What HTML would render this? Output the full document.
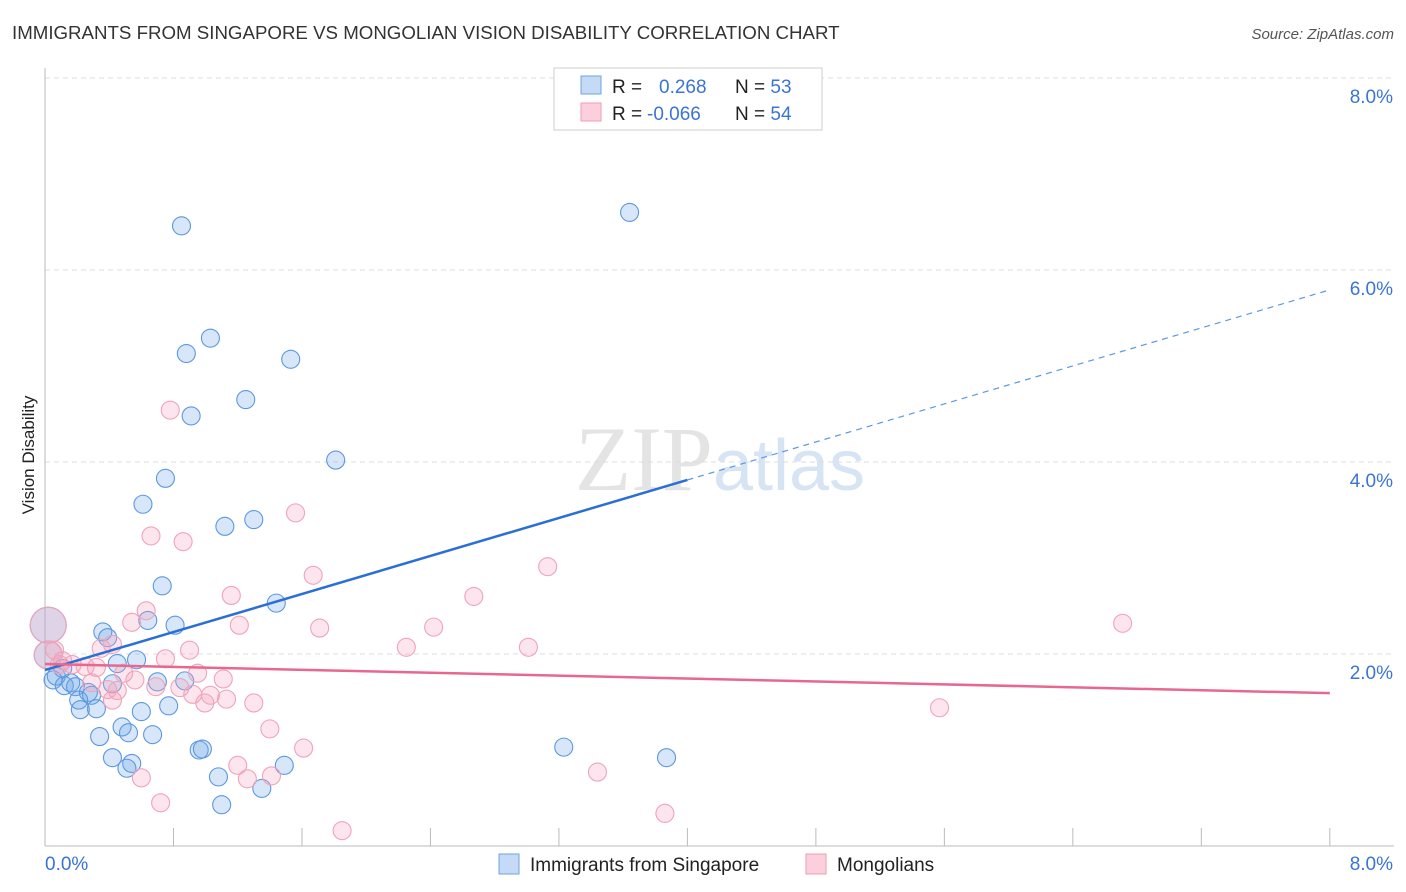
<!DOCTYPE html>
<html><head><meta charset="utf-8"><style>
body{margin:0;background:#fff;font-family:"Liberation Sans",sans-serif;}
svg{display:block}
</style></head><body>
<svg id="chart" width="1406" height="892" xmlns="http://www.w3.org/2000/svg">
<text x="12" y="39" font-size="18.7" fill="#333">IMMIGRANTS FROM SINGAPORE VS MONGOLIAN VISION DISABILITY CORRELATION CHART</text>
<text x="1394" y="39" font-size="15" fill="#555" font-style="italic" text-anchor="end">Source: ZipAtlas.com</text>
<text x="720" y="490" font-size="92" fill="#e4e4e4" text-anchor="middle" font-family="Liberation Serif,serif">ZIP<tspan fill="#d6e4f4" font-family="Liberation Sans,sans-serif" font-size="72">atlas</tspan></text>
<g id="grid"></g>
<g id="axes"></g>
<g id="pts"></g>
<g id="lines"></g>
<text transform="translate(34,455) rotate(-90)" font-size="17" fill="#222" text-anchor="middle">Vision Disability</text>
<g>
<rect x="554" y="68" width="268" height="62" fill="#fff" stroke="#ccc"/>
<rect x="581" y="76" width="20" height="18" fill="#c5daf5" stroke="#6fa3e3"/>
<rect x="581" y="103" width="20" height="18" fill="#fbd0dc" stroke="#f09ab4"/>
<text x="612" y="93" font-size="19" fill="#222">R = <tspan fill="#3a74d4" x="659">0.268</tspan><tspan x="735" fill="#222">N = </tspan><tspan fill="#3a74d4">53</tspan></text>
<text x="612" y="120" font-size="19" fill="#222">R = <tspan fill="#3a74d4" x="647">-0.066</tspan><tspan x="735" fill="#222">N = </tspan><tspan fill="#3a74d4">54</tspan></text>
</g>
<g>
<rect x="499" y="854" width="20" height="20" fill="#c5daf5" stroke="#6fa3e3"/>
<text x="530" y="871" font-size="19" fill="#222">Immigrants from Singapore</text>
<rect x="806" y="854" width="20" height="20" fill="#fbd0dc" stroke="#f09ab4"/>
<text x="837" y="871" font-size="19" fill="#222">Mongolians</text>
</g>
</svg>
<script>
const xTicks=[0.8,1.6,2.4,3.2,4.0,4.8,5.6,6.4,7.2,8.0];
const yTicks=[2,4,6,8];
const blueX=[0.85,3.64,1.03,0.88,1.53,1.25,0.91,1.81,0.75,0.61,1.30,1.12,0.73,1.44,0.64,0.81,0.36,0.39,0.57,0.45,0.70,0.87,0.42,0.07,0.12,0.16,0.19,0.27,0.29,0.21,0.32,0.22,0.77,0.60,0.48,0.52,0.67,0.34,0.96,0.98,3.23,0.42,0.54,0.51,3.87,1.08,1.49,1.10,1.35,0.02,0.02,0.11,0.05];
const blueY=[6.46,6.60,5.29,5.13,5.07,4.65,4.48,4.02,3.83,3.56,3.40,3.33,2.71,2.53,2.35,2.30,2.23,2.17,1.94,1.90,1.71,1.72,1.69,1.77,1.67,1.70,1.66,1.60,1.57,1.52,1.43,1.42,1.46,1.40,1.24,1.18,1.16,1.14,1.00,1.01,1.03,0.92,0.86,0.81,0.92,0.72,0.84,0.43,0.60,2.30,1.99,1.85,1.73];
const blueR=[9,9,9,9,9,9,9,9,9,9,9,9,9,9,9,9,9,9,9,9,9,9,9,9,9,9,9,9,9,9,9,9,9,9,9,9,9,9,9,9,9,9,9,9,9,9,9,9,9,18,14,9,9];
const pinkX=[0.78,1.56,0.66,0.86,3.13,1.67,1.16,2.67,0.63,0.54,1.21,1.71,6.71,2.42,2.25,3.01,0.35,0.42,0.75,0.90,0.11,0.17,0.25,0.32,0.49,0.29,0.56,0.95,1.11,0.39,0.45,0.84,0.69,0.92,1.03,1.13,0.995,1.30,0.42,5.57,1.40,1.61,1.20,0.60,1.26,1.41,3.44,0.72,3.86,1.85,0.02,0.02,0.06,0.09];
const pinkY=[4.54,3.47,3.23,3.17,2.91,2.82,2.61,2.60,2.45,2.33,2.30,2.27,2.32,2.28,2.07,2.07,2.06,2.10,1.95,2.04,1.93,1.89,1.87,1.86,1.80,1.70,1.73,1.80,1.74,1.63,1.62,1.65,1.66,1.58,1.57,1.53,1.49,1.49,1.52,1.44,1.22,1.02,0.84,0.71,0.70,0.73,0.77,0.45,0.34,0.16,2.30,1.99,2.04,1.89];
const pinkR=[9,9,9,9,9,9,9,9,9,9,9,9,9,9,9,9,9,9,9,9,9,9,9,9,9,9,9,9,9,9,9,9,9,9,9,9,9,9,9,9,9,9,9,9,9,9,9,9,9,9,18,14,9,9];
const blueFit=[1.833,0.495];
const pinkFit=[1.896,-0.038];
const X=v=>45+v*160.6, Y=v=>846-v*96;
const NS='http://www.w3.org/2000/svg';
function mk(t,a,p){const e=document.createElementNS(NS,t);for(const k in a)e.setAttribute(k,a[k]);p.appendChild(e);return e;}
const grid=document.getElementById('grid'),axes=document.getElementById('axes'),pts=document.getElementById('pts'),lines=document.getElementById('lines');
yTicks.forEach(t=>{
const l=mk('line',{x1:45,x2:1394,y1:Y(t),y2:Y(t),stroke:'#ddd','stroke-dasharray':'5,4'},grid);


const tx=mk('text',{x:1393,y:Y(t)+25,'font-size':19,fill:'#3a74d4','text-anchor':'end'},axes);
tx.textContent=t.toFixed(1)+'%';


});
mk('line',{x1:45,x2:45,y1:68,y2:846,stroke:'#bbb'},axes);
mk('line',{x1:45,x2:1394,y1:846,y2:846,stroke:'#bbb'},axes);
xTicks.forEach(t=>{
const tk=mk('line',{x1:X(t),x2:X(t),y1:828,y2:846,stroke:'#bbb'},axes);


});
[[0,'start',45],[8,'end',1393]].forEach(([v,a,x])=>{
const tx=mk('text',{x:x,y:870,'font-size':19,fill:'#3a74d4','text-anchor':a},axes);
tx.textContent=v.toFixed(1)+'%';


});
function drawPts(xs,ys,rs,fill,stroke,name){
xs.forEach((x,i)=>{
const c=mk('circle',{cx:X(x),cy:Y(ys[i]),r:rs[i],fill:fill,stroke:stroke,'stroke-width':1.1},pts);


});}
drawPts(blueX,blueY,blueR,'rgba(110,165,230,0.28)','#5b98e0','singapore-point');
drawPts(pinkX,pinkY,pinkR,'rgba(245,160,188,0.28)','#f0a3bb','mongolians-point');
const f=(p,x)=>p[0]+p[1]*x;
const b1=mk('line',{x1:X(0),y1:Y(f(blueFit,0)),x2:X(4),y2:Y(f(blueFit,4)),stroke:'#2a6fd6','stroke-width':2.5},lines);


const b2=mk('line',{x1:X(4),y1:Y(f(blueFit,4)),x2:X(8),y2:Y(f(blueFit,8)),stroke:'#5b98e0','stroke-width':1.2,'stroke-dasharray':'6,5'},lines);


const p1=mk('line',{x1:X(0),y1:Y(f(pinkFit,0)),x2:X(8),y2:Y(f(pinkFit,8)),stroke:'#e8678f','stroke-width':2.5},lines);


</script>
</body></html>
